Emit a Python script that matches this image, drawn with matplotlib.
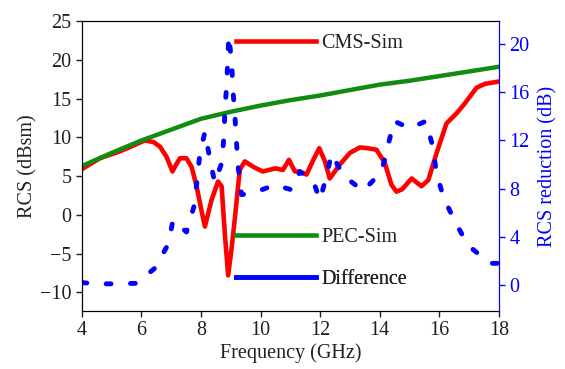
import numpy as np
import matplotlib
matplotlib.use('Agg')
import matplotlib.pyplot as plt
from matplotlib.lines import Line2D

plt.rcParams['font.family'] = ['Liberation Serif', 'DejaVu Serif']
plt.rcParams['font.size'] = 14.5

# PEC-Sim (dBsm)
pec_x = [4, 5, 6, 7, 8, 9, 10, 11, 12, 13, 14, 15, 16, 17, 18]
pec_y = [6.3, 8.0, 9.6, 11.0, 12.4, 13.3, 14.1, 14.8, 15.4, 16.1, 16.8, 17.3, 17.9, 18.5, 19.1]

# CMS-Sim (dBsm)
cms_x = [4.0, 4.6, 5.28, 5.7, 6.11, 6.4, 6.62, 6.84, 7.04, 7.15, 7.29, 7.51, 7.68, 7.85,
         8.0, 8.13, 8.35, 8.57, 8.69, 8.8, 8.91, 9.02, 9.13, 9.3, 9.47, 9.75, 10.07,
         10.5, 10.75, 10.95, 11.15, 11.32, 11.54, 11.77, 11.97, 12.16, 12.32, 12.66,
         13.0, 13.33, 13.6, 13.89, 14.17, 14.39, 14.56, 14.75, 15.07, 15.4, 15.63,
         15.91, 16.24, 16.58, 16.86, 17.25, 17.53, 18.0]
cms_y = [5.9, 7.3, 8.2, 8.9, 9.6, 9.4, 8.8, 7.5, 5.6, 6.4, 7.3, 7.3, 6.2, 3.7,
         0.8, -1.5, 1.9, 4.3, 3.7, -2.5, -7.8, -4.5, -0.6, 5.8, 6.9, 6.2, 5.6,
         6.0, 5.8, 7.1, 5.6, 5.6, 5.2, 7.1, 8.6, 6.9, 4.7, 6.5,
         8.0, 8.7, 8.6, 8.4, 6.7, 3.9, 3.0, 3.3, 4.7, 3.7, 4.5,
         8.0, 11.8, 13.1, 14.4, 16.4, 16.9, 17.2]

# Difference / RCS reduction (dB)
diff_x = [4.0, 4.5, 5.0, 5.83, 6.45, 6.9, 7.06, 7.51, 7.76, 7.87, 7.96, 8.13, 8.3, 8.46,
          8.69, 8.77, 8.8, 8.86, 8.9, 8.93, 9.03, 9.07, 9.13, 9.19, 9.25, 9.36, 9.7,
          10.48, 11.04, 11.32, 11.77, 11.99, 12.21, 12.38, 12.77, 13.44, 14.06, 14.28,
          14.48, 15.01, 15.55, 15.79, 15.9, 16.15, 16.52, 16.96, 17.7, 18.0]
diff_y = [0.2, 0.1, 0.1, 0.14, 1.4, 3.4, 5.4, 4.4, 6.5, 8.7, 10.9, 12.7, 10.4, 8.5,
          10.1, 12.3, 14.5, 16.6, 18.8, 20.7, 18.4, 16.2, 14.3, 11.8, 9.7, 7.5, 7.6,
          8.3, 7.9, 9.4, 8.6, 7.05, 9.0, 10.9, 9.1, 7.8, 9.4, 11.6,
          13.6, 13.0, 13.6, 11.4, 9.3, 7.2, 5.3, 3.3, 1.8, 1.8]

red = '#ff0000'
green = '#118c11'
blue = '#0000ff'
txt = '#231f20'

fig, ax = plt.subplots(figsize=(5.65, 3.69), dpi=100)
fig.subplots_adjust(left=0.145, right=0.883, top=0.943, bottom=0.157)

ax.plot(cms_x, cms_y, color=red, lw=3.3, solid_joinstyle='round')
ax.plot(pec_x, pec_y, color=green, lw=3.2)
ax.set_xlim(4, 18)
ax.set_ylim(-12.4, 25)
ax.set_xticks(np.arange(4, 19, 2))
ax.set_yticks(np.arange(-10, 26, 5))
ax.set_xlabel('Frequency (GHz)', color=txt, labelpad=2)
ax.set_ylabel('RCS (dBsm)', color=txt, labelpad=2)
ax.tick_params(direction='out', length=4, width=1, colors=txt, top=False, right=False)

ax2 = ax.twinx()
ax2.plot(diff_x, diff_y, color=blue, lw=3.5, linestyle=(0, (1.0, 4.0)),
         dash_capstyle='round')
ax2.set_ylim(-2.16, 21.9)
ax2.set_yticks(np.arange(0, 21, 4))
ax2.set_ylabel('RCS reduction (dB)', color=blue, labelpad=6)
ax2.tick_params(direction='out', length=4, width=1, colors=blue)
ax2.spines['right'].set_color(blue)

# legend entries placed separately like the original
entries = [('CMS-Sim', red, 0.924), ('PEC-Sim', green, 0.255), ('Difference', blue, 0.110)]
for label, col, ypos in entries:
    h = Line2D([], [], color=col, lw=3.3)
    leg = ax2.legend([h], [label], loc='center left', bbox_to_anchor=(0.369, ypos),
                     frameon=False, borderpad=0, borderaxespad=0, handlelength=4.0,
                     handletextpad=0.25, fontsize=14.5, labelcolor=txt)
    ax2.add_artist(leg)

fig.savefig('out.png', dpi=100)
